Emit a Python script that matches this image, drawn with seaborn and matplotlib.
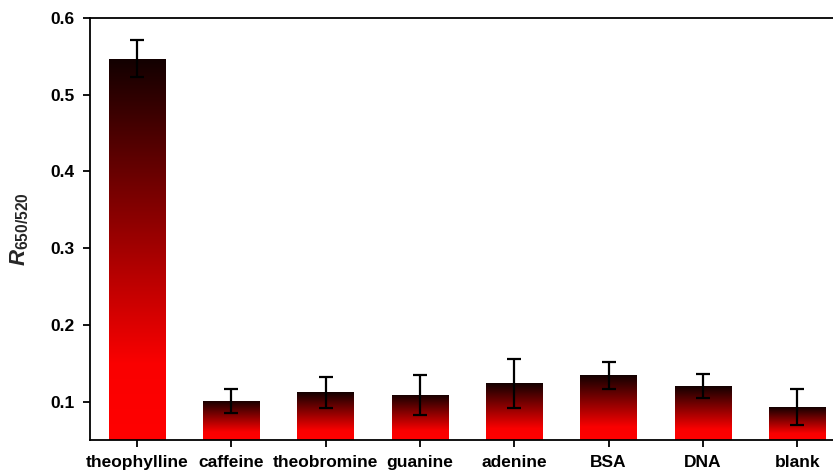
import numpy as np
import pandas as pd
import matplotlib
matplotlib.use("Agg")
import matplotlib.pyplot as plt
from matplotlib.colors import LinearSegmentedColormap
import seaborn as sns

# data
samples = ["theophylline", "caffeine", "theobromine", "guanine",
           "adenine", "BSA", "DNA", "blank"]
ratio = [0.547, 0.101, 0.112, 0.109, 0.124, 0.134, 0.120, 0.093]
ratio_err = [0.024, 0.016, 0.020, 0.026, 0.032, 0.018, 0.016, 0.024]

sns.set_theme(style="white")
plt.rcParams["font.family"] = ["Liberation Sans", "DejaVu Sans"]
plt.rcParams["font.weight"] = "bold"
plt.rcParams["mathtext.fontset"] = "custom"
plt.rcParams["mathtext.it"] = "Liberation Sans:italic:bold"
plt.rcParams["mathtext.rm"] = "Liberation Sans:bold"
plt.rcParams["mathtext.bf"] = "Liberation Sans:bold"

df = pd.DataFrame({"sample": samples, "ratio": ratio, "err": ratio_err})

fig = plt.figure(figsize=(8.33, 4.71), dpi=100)
ax = fig.add_axes([0.108, 0.066, 0.892, 0.896])

sns.barplot(data=df, x="sample", y="ratio", ax=ax, width=0.6,
            color="red", errorbar=None)

ymin = 0.05
# red -> black gradient on each bar
cmap = LinearSegmentedColormap.from_list(
    "redblack", [(0.0, "#ff0000"), (0.2, "#fa0000"), (1.0, "#120000")])
grad = np.linspace(0, 1, 256).reshape(-1, 1)
for p in ax.patches:
    x0 = p.get_x()
    x1 = x0 + p.get_width()
    y1 = p.get_height()
    p.set_facecolor("none")
    p.set_edgecolor("none")
    im = ax.imshow(grad, cmap=cmap, origin="lower", aspect="auto",
                   extent=[x0, x1, ymin, y1], zorder=2)
    im.set_clip_path(p)

ax.errorbar(np.arange(len(samples)), ratio, yerr=ratio_err, fmt="none",
            ecolor="black", elinewidth=1.6, capsize=5, capthick=1.6, zorder=3)

ax.set_xlim(-0.5, 7.38)
ax.set_ylim(ymin, 0.6)
ax.set_yticks([0.1, 0.2, 0.3, 0.4, 0.5, 0.6])
ax.set_yticklabels(["0.1", "0.2", "0.3", "0.4", "0.5", "0.6"])
ax.set_xlabel("")
ax.set_ylabel(r"$R_{\mathrm{650/520}}$", fontsize=16, labelpad=14)

for s in ["left", "bottom", "top"]:
    ax.spines[s].set_visible(True)
    ax.spines[s].set_color("black")
    ax.spines[s].set_linewidth(1.3)
ax.spines["right"].set_visible(False)

ax.tick_params(axis="both", which="major", direction="out", length=5,
               width=1.3, color="black", labelsize=12.5, labelcolor="black",
               left=True, bottom=True, top=False, right=False)
ax.tick_params(axis="x", pad=6)
ax.tick_params(axis="y", pad=6)
for lab in ax.get_xticklabels() + ax.get_yticklabels():
    lab.set_fontweight("bold")

fig.savefig("out.png", dpi=100)
